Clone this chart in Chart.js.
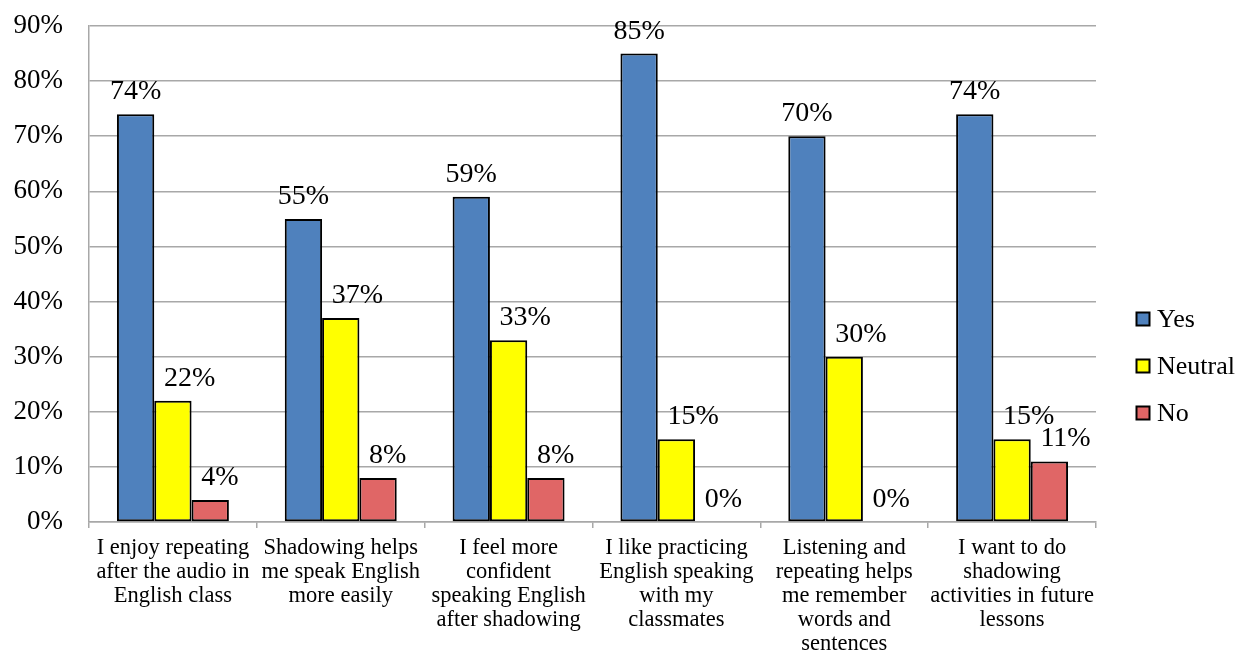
<!DOCTYPE html>
<html>
<head>
<meta charset="utf-8">
<script src="https://cdn.jsdelivr.net/npm/chart.js@4.4.1/dist/chart.umd.min.js"></script>
<style>
  html, body { margin: 0; padding: 0; background: #fff; }
  #wrap { width: 1245px; height: 655px; }
</style>
</head>
<body>
<div id="wrap"><canvas id="myChart" width="1245" height="655"></canvas></div>
<script>
var categories = [
  ['I enjoy repeating', 'after the audio in', 'English class'],
  ['Shadowing helps', 'me speak English', 'more easily'],
  ['I feel more', 'confident', 'speaking English', 'after shadowing'],
  ['I like practicing', 'English speaking', 'with my', 'classmates'],
  ['Listening and', 'repeating helps', 'me remember', 'words and', 'sentences'],
  ['I want to do', 'shadowing', 'activities in future', 'lessons']
];
var yesValues = [74, 55, 59, 85, 70, 74];
var neutralValues = [22, 37, 33, 15, 30, 15];
var noValues = [4, 8, 8, 0, 0, 11];
var yTicks = [0, 10, 20, 30, 40, 50, 60, 70, 80, 90];

var serif = '"Liberation Serif", "Times New Roman", serif';
var gridGray = '#a8a8a8';

// value labels above each bar
var valueLabels = {
  id: 'valueLabels',
  afterDatasetsDraw: function (chart) {
    var c = chart.ctx;
    c.save();
    c.font = '28px ' + serif;
    c.fillStyle = '#000';
    c.textBaseline = 'alphabetic';
    chart.data.datasets.forEach(function (ds, i) {
      var meta = chart.getDatasetMeta(i);
      meta.data.forEach(function (bar, j) {
        var txt = ds.data[j] + '%';
        if (i === 0) {
          c.textAlign = 'center';
          c.fillText(txt, bar.x, bar.y - 15);
        } else {
          c.textAlign = 'left';
          c.fillText(txt, bar.x - 9, bar.y - 15);
        }
      });
    });
    c.restore();
  }
};

// legend on the right
var sideLegend = {
  id: 'sideLegend',
  afterDraw: function (chart) {
    var c = chart.ctx;
    c.save();
    c.font = '26px ' + serif;
    c.textAlign = 'left';
    c.textBaseline = 'middle';
    chart.data.datasets.forEach(function (ds, i) {
      var cy = 319 + i * 47;
      c.fillStyle = ds.backgroundColor;
      c.fillRect(1136.5, cy - 6.5, 13, 13);
      c.lineWidth = 2;
      c.strokeStyle = '#000';
      c.strokeRect(1136.5, cy - 6.5, 13, 13);
      c.fillStyle = '#000';
      c.fillText(ds.label, 1157, cy + 1);
    });
    c.restore();
  }
};

var ctx = document.getElementById('myChart').getContext('2d');
var myChart = new Chart(ctx, {
  type: 'bar',
  data: {
    labels: categories,
    datasets: [{
      label: 'Yes',
      data: yesValues,
      backgroundColor: '#4F81BD',
      borderColor: '#000',
      borderWidth: 2,
      borderSkipped: false
    }, {
      label: 'Neutral',
      data: neutralValues,
      backgroundColor: '#FFFF00',
      borderColor: '#000',
      borderWidth: 2,
      borderSkipped: false
    }, {
      label: 'No',
      data: noValues,
      backgroundColor: '#E06666',
      borderColor: '#000',
      borderWidth: 2,
      borderSkipped: false
    }]
  },
  options: {
    responsive: false,
    animation: false,
    categoryPercentage: 0.667,
    barPercentage: 1.0,
    layout: { padding: { left: 0, right: 149, top: 26, bottom: 0 } },
    plugins: {
      legend: { display: false },
      tooltip: { enabled: false }
    },
    scales: {
      x: {
        grid: {
          offset: true,
          drawOnChartArea: false,
          drawTicks: true,
          tickLength: 6,
          color: gridGray,
          lineWidth: 1.5
        },
        border: { display: true, color: gridGray, width: 1.5 },
        ticks: {
          font: { family: serif, size: 22.5, lineHeight: 1.07 },
          color: '#000',
          padding: 8,
          maxRotation: 0,
          autoSkip: false
        },
        afterFit: function (scale) {
          scale.height = 133;
          scale.paddingLeft = 0;
          scale.paddingRight = 0;
        }
      },
      y: {
        min: 0,
        max: 90,
        afterBuildTicks: function (scale) {
          scale.ticks = yTicks.map(function (v) { return { value: v }; });
        },
        grid: { color: gridGray, lineWidth: 1.5, drawTicks: false },
        border: { display: true, color: gridGray, width: 1.5 },
        ticks: {
          font: { family: serif, size: 27 },
          color: '#000',
          padding: 26,
          callback: function (v) { return v + '%'; }
        },
        afterFit: function (scale) {
          scale.width = 89;
          scale.paddingTop = 0;
          scale.paddingBottom = 0;
        }
      }
    }
  },
  plugins: [valueLabels, sideLegend]
});
</script>
</body>
</html>
